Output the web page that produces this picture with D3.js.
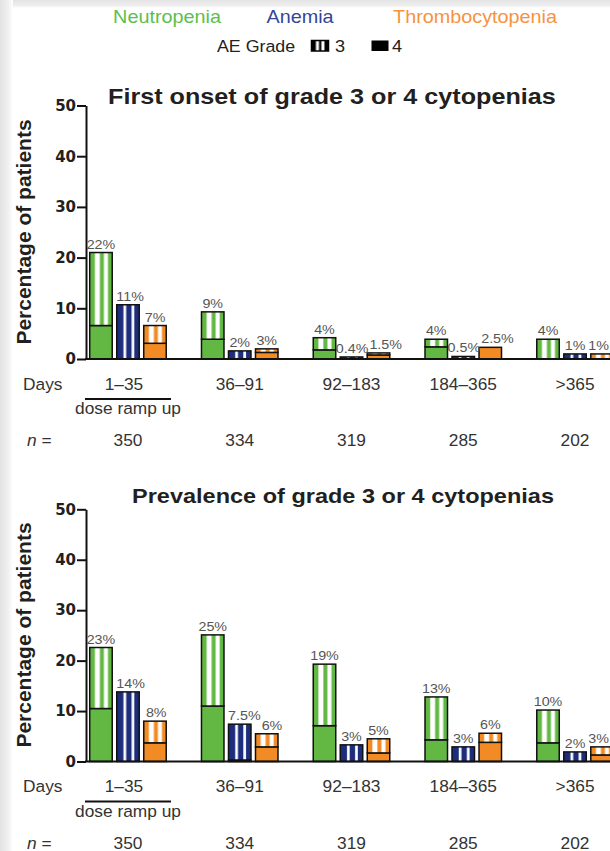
<!DOCTYPE html>
<html><head><meta charset="utf-8">
<script src="https://cdn.jsdelivr.net/npm/d3@7"></script>
<style>body{margin:0;background:#fff;overflow:hidden}svg{display:block}</style>
</head><body><svg id="c" width="610" height="851"></svg>
<script>
// ---------- data ----------
const categories = ["1–35", "36–91", "92–183", "184–365", ">365"];
const nValues = ["350", "334", "319", "285", "202"];
const series = ["Neutropenia", "Anemia", "Thrombocytopenia"];
const yTicks = [0, 10, 20, 30, 40, 50];

// First onset of grade 3 or 4 cytopenias: total (grade 3+4) and grade 4 part
const onsetNeutTotal = [21.0, 9.3, 4.2, 3.9, 3.9];
const onsetNeutG4    = [6.6, 3.9, 1.8, 2.4, 0];
const onsetAnemTotal = [10.7, 1.6, 0.4, 0.5, 1.0];
const onsetAnemG4    = [0, 0, 0, 0, 0];
const onsetThrTotal  = [6.6, 2.0, 1.2, 2.3, 1.0];
const onsetThrG4     = [3.1, 1.3, 0.8, 2.3, 0];
const onsetNeutLabels = ["22%", "9%", "4%", "4%", "4%"];
const onsetAnemLabels = ["11%", "2%", "0.4%", "0.5%", "1%"];
const onsetThrLabels  = ["7%", "3%", "1.5%", "2.5%", "1%"];

// Prevalence of grade 3 or 4 cytopenias
const prevNeutTotal = [22.6, 25.1, 19.3, 12.8, 10.2];
const prevNeutG4    = [10.5, 11.0, 7.1, 4.3, 3.7];
const prevAnemTotal = [13.8, 7.4, 3.3, 2.9, 1.9];
const prevAnemG4    = [0, 0.3, 0, 0, 0];
const prevThrTotal  = [8.0, 5.5, 4.5, 5.6, 2.9];
const prevThrG4     = [3.7, 2.9, 1.7, 3.8, 1.3];
const prevNeutLabels = ["23%", "25%", "19%", "13%", "10%"];
const prevAnemLabels = ["14%", "7.5%", "3%", "3%", "2%"];
const prevThrLabels  = ["8%", "6%", "5%", "6%", "3%"];

// ---------- styles ----------
const W = 610, H = 851;
const FONT = "'Liberation Sans', Arial, Helvetica, sans-serif";
const barColors = ["#63b844", "#1d2d7d", "#f28b23"];
const legendColors = ["#5cbf4a", "#34469a", "#f7923f"];
const stripeSets = [
  [[0.23, 0.45], [0.63, 0.81]],
  [[0.30, 0.42], [0.66, 0.78]],
  [[0.23, 0.45], [0.63, 0.81]]
];

const svg = d3.select("#c");
svg.style("font-family", FONT);
const defs = svg.append("defs");

// page shadow
const gl = defs.append("linearGradient").attr("id", "shL").attr("x1", 0).attr("x2", 1).attr("y1", 0).attr("y2", 0);
gl.append("stop").attr("offset", 0).attr("stop-color", "#e2e2e2");
gl.append("stop").attr("offset", 0.6).attr("stop-color", "#efefef");
gl.append("stop").attr("offset", 1).attr("stop-color", "#ffffff");
const gt = defs.append("linearGradient").attr("id", "shT").attr("x1", 0).attr("x2", 0).attr("y1", 0).attr("y2", 1);
gt.append("stop").attr("offset", 0).attr("stop-color", "#e4e4e4");
gt.append("stop").attr("offset", 0.7).attr("stop-color", "#efefef");
gt.append("stop").attr("offset", 1).attr("stop-color", "#ffffff");
svg.append("rect").attr("width", W).attr("height", H).attr("fill", "#fff");
svg.append("rect").attr("width", W).attr("height", 8).attr("fill", "url(#shT)");
svg.append("rect").attr("width", 13).attr("height", H).attr("fill", "url(#shL)");

// stripe patterns (grade 3)
series.forEach((s, i) => {
  const p = defs.append("pattern").attr("id", "pat" + i)
    .attr("patternUnits", "objectBoundingBox").attr("patternContentUnits", "objectBoundingBox")
    .attr("width", 1).attr("height", 1);
  p.append("rect").attr("width", 1).attr("height", 1).attr("fill", barColors[i]);
  stripeSets[i].forEach(st => p.append("rect").attr("x", st[0]).attr("width", st[1] - st[0]).attr("height", 1).attr("fill", "#fff"));
});
const lp = defs.append("pattern").attr("id", "patLeg")
  .attr("patternUnits", "objectBoundingBox").attr("patternContentUnits", "objectBoundingBox")
  .attr("width", 1).attr("height", 1);
lp.append("rect").attr("width", 1).attr("height", 1).attr("fill", "#000");
[[0.26, 0.44], [0.58, 0.76]].forEach(st => lp.append("rect").attr("x", st[0]).attr("width", st[1] - st[0]).attr("height", 1).attr("fill", "#fff"));

function T(sel, x, y, str, o) {
  o = o || {};
  const sx = o.sx || 1.1;
  const rot = o.rotate ? ` rotate(${o.rotate})` : "";
  return sel.append("text")
    .attr("transform", `translate(${x},${y})${rot} scale(${sx},1)`)
    .attr("text-anchor", o.anchor || "middle")
    .style("font-size", (o.size || 14) + "px")
    .style("font-weight", o.weight || "normal")
    .style("font-family", o.family || FONT)
    .attr("fill", o.fill || "#333")
    .text(str);
}

// ---------- legend ----------
const legendX = [167, 300, 475];
series.forEach((s, i) => T(svg, legendX[i], 23, s, { size: 18, fill: legendColors[i], sx: 1.1 }));
T(svg, 217, 51.5, "AE Grade", { size: 16.5, anchor: "start", fill: "#222", sx: 1.08 });
svg.append("rect").attr("x", 311.5).attr("y", 40.5).attr("width", 17).attr("height", 10.5)
  .attr("fill", "url(#patLeg)").attr("stroke", "#000").attr("stroke-width", 1.5);
T(svg, 335, 51.5, "3", { size: 16.5, anchor: "start", fill: "#222" });
svg.append("rect").attr("x", 371.5).attr("y", 40.5).attr("width", 17).attr("height", 10.5).attr("fill", "#000");
T(svg, 392, 51.5, "4", { size: 16.5, anchor: "start", fill: "#222" });

// ---------- scales ----------
const x0 = d3.scaleBand().domain(categories).range([72.1, 630.9]);
const x1 = d3.scaleBand().domain(series).range([-38.25, 38.25]).paddingInner(0.167);
const axisX = 86;

function drawChart(cfg) {
  const g = svg.append("g");
  const y = d3.scaleLinear().domain([0, 50]).range([cfg.yBase, cfg.yTop]);

  T(g, cfg.titleX, cfg.titleY, cfg.title, { size: cfg.titleSize, weight: "bold", anchor: "start", fill: "#231f20", sx: 1.12 });

  // bars
  series.forEach((s, si) => {
    categories.forEach((c, ci) => {
      const tot = cfg.totals[si][ci], g4 = cfg.g4s[si][ci];
      const bx = x0(c) + x0.bandwidth() / 2 + x1(s);
      const bw = x1.bandwidth();
      if (g4 > 0) {
        g.append("rect").attr("x", bx).attr("width", bw)
          .attr("y", y(g4)).attr("height", y(0) - y(g4))
          .attr("fill", barColors[si]).attr("stroke", "#111").attr("stroke-width", 1.5);
      }
      if (tot - g4 > 0) {
        g.append("rect").attr("x", bx).attr("width", bw)
          .attr("y", y(tot)).attr("height", y(g4) - y(tot))
          .attr("fill", `url(#pat${si})`).attr("stroke", "#111").attr("stroke-width", 1.5);
      }
    });
  });

  // value labels with simple overlap nudge, kept inside the page
  categories.forEach((c, ci) => {
    let prevRight = -Infinity;
    series.forEach((s, si) => {
      const cx = x0(c) + x0.bandwidth() / 2 + x1(s) + x1.bandwidth() / 2;
      const ty = y(cfg.totals[si][ci]) - 4;
      const t = T(g, cx, ty, cfg.labels[si][ci], { size: 13, fill: "#555", sx: 1.1 });
      const w = t.node().getComputedTextLength() * 1.1;
      let nx = cx;
      if (nx - w / 2 < prevRight + 1) nx = prevRight + 1 + w / 2;
      if (nx + w / 2 > W - 1) nx = W - 1 - w / 2;
      t.attr("transform", `translate(${nx},${ty}) scale(1.1,1)`);
      prevRight = nx + w / 2;
    });
  });

  // y axis
  const ya = g.append("g").attr("transform", `translate(${axisX},0)`)
    .call(d3.axisLeft(y).tickValues(yTicks).tickSize(9).tickSizeOuter(0).tickPadding(1));
  ya.select(".domain").attr("stroke", "#111").attr("stroke-width", 2);
  ya.selectAll(".tick line").attr("stroke", "#111").attr("stroke-width", 2);
  ya.selectAll(".tick text")
    .style("font-family", "'DejaVu Sans', sans-serif").style("font-weight", "bold")
    .style("font-size", "15px").attr("fill", "#231f20");

  // x axis line
  g.append("line").attr("x1", axisX - 1).attr("x2", W).attr("y1", y(0)).attr("y2", y(0))
    .attr("stroke", "#111").attr("stroke-width", 2);

  // y label
  T(g, 30.5, cfg.yLabelY, "Percentage of patients", { size: 20, weight: "bold", rotate: -90, fill: "#231f20", sx: 1.05 });

  // category row
  const b = y(0);
  T(g, 23, b + 30.5, "Days", { size: 16.5, anchor: "start", fill: "#333", sx: 1.05 });
  categories.forEach((c, ci) => {
    const cx = x0(c) + x0.bandwidth() / 2;
    T(g, cx - (ci === 0 ? 4 : 0), b + 30.5, c, { size: 16.5, fill: "#333", sx: 1.05 });
    T(g, cx, b + 87, nValues[ci], { size: 16.5, fill: "#333", sx: 1.05 });
  });
  const c0 = x0(categories[0]) + x0.bandwidth() / 2;
  g.append("line").attr("x1", c0 - 43).attr("x2", c0 + 43).attr("y1", b + 40).attr("y2", b + 40)
    .attr("stroke", "#111").attr("stroke-width", 2);
  T(g, c0, b + 55, "dose ramp up", { size: 16.5, fill: "#333", sx: 1.05 });
  const nt = g.append("text").attr("transform", `translate(27,${b + 87}) scale(1.05,1)`)
    .style("font-size", "16.5px").attr("fill", "#333");
  nt.append("tspan").style("font-style", "italic").text("n");
  nt.append("tspan").text(" =");
}

drawChart({
  title: "First onset of grade 3 or 4 cytopenias", titleX: 108, titleY: 104, titleSize: 22.5,
  yBase: 359, yTop: 105.5, yLabelY: 232,
  totals: [onsetNeutTotal, onsetAnemTotal, onsetThrTotal],
  g4s: [onsetNeutG4, onsetAnemG4, onsetThrG4],
  labels: [onsetNeutLabels, onsetAnemLabels, onsetThrLabels]
});
drawChart({
  title: "Prevalence of grade 3 or 4 cytopenias", titleX: 132, titleY: 502.5, titleSize: 21,
  yBase: 761.5, yTop: 509.3, yLabelY: 635,
  totals: [prevNeutTotal, prevAnemTotal, prevThrTotal],
  g4s: [prevNeutG4, prevAnemG4, prevThrG4],
  labels: [prevNeutLabels, prevAnemLabels, prevThrLabels]
});
</script></body></html>
